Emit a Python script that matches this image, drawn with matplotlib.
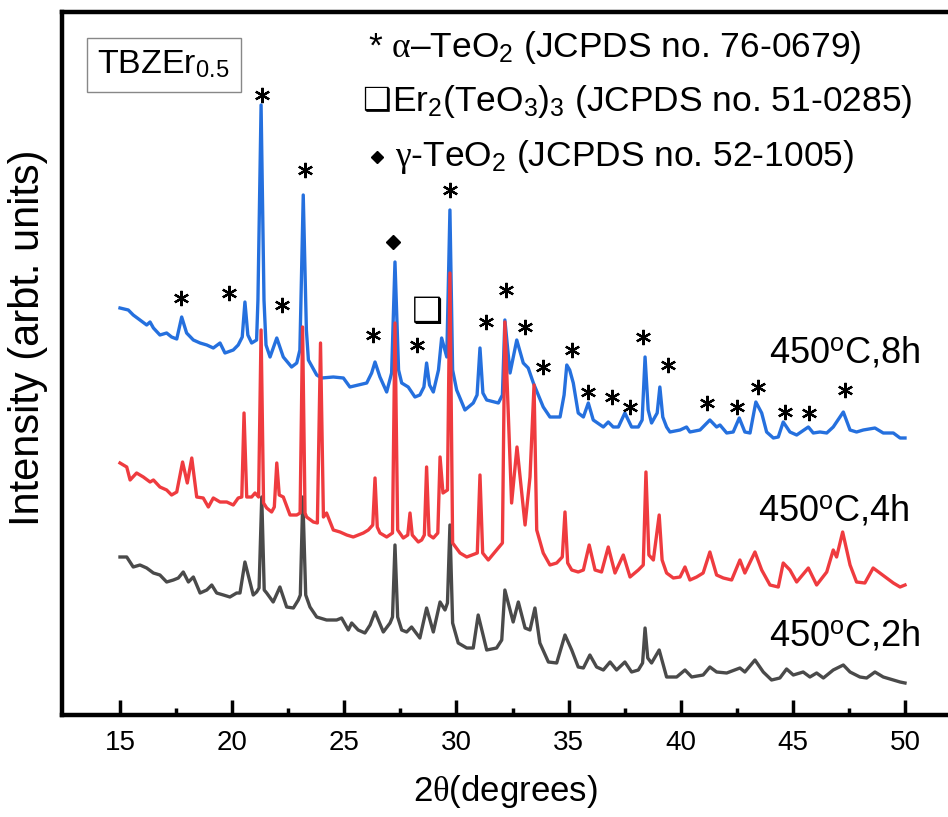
import matplotlib
matplotlib.use("Agg")
import matplotlib.pyplot as plt
from matplotlib.ticker import FixedLocator

plt.rcParams['font.family'] = ['Liberation Sans', 'DejaVu Sans']
plt.rcParams['mathtext.fontset'] = 'custom'
plt.rcParams['mathtext.rm'] = 'Liberation Sans'
plt.rcParams['mathtext.it'] = 'Liberation Serif'
plt.rcParams['mathtext.bf'] = 'Liberation Sans:bold'

# 450C, 8h (blue): (2theta, intensity)
pts_8h = [(15.00, 407), (15.37, 405), (15.59, 400), (15.89, 395), (16.19, 390), (16.34, 393),
          (16.49, 387), (16.78, 380), (17.08, 382), (17.30, 378), (17.53, 376), (17.75, 398),
          (17.97, 382), (18.27, 375), (18.57, 372), (18.87, 370), (19.16, 367), (19.46, 372),
          (19.68, 362), (20.05, 365), (20.27, 370), (20.45, 378), (20.57, 413), (20.70, 380),
          (20.87, 372), (21.09, 375), (21.15, 415), (21.29, 610), (21.42, 415), (21.51, 370),
          (21.69, 358), (21.99, 377), (22.28, 358), (22.65, 348), (22.88, 352), (23.02, 365),
          (23.17, 520), (23.31, 385), (23.40, 355), (23.77, 340), (23.99, 337), (24.51, 338),
          (24.96, 337), (25.25, 328), (25.62, 330), (26.00, 332), (26.22, 342), (26.37, 353),
          (26.59, 338), (26.89, 323), (27.11, 342), (27.26, 453), (27.42, 345), (27.56, 332),
          (27.85, 328), (28.15, 318), (28.37, 320), (28.55, 328), (28.67, 352), (28.80, 330),
          (28.97, 323), (29.20, 345), (29.34, 377), (29.57, 358), (29.71, 505), (29.83, 345),
          (30.01, 325), (30.38, 305), (30.75, 312), (30.92, 320), (31.05, 367), (31.18, 322),
          (31.35, 315), (31.87, 312), (32.05, 320), (32.16, 395), (32.39, 342), (32.69, 375),
          (32.98, 352), (33.20, 347), (33.43, 332), (33.87, 308), (34.17, 298), (34.62, 298),
          (34.80, 320), (34.92, 350), (35.05, 345), (35.21, 332), (35.43, 302), (35.66, 298),
          (35.88, 312), (36.10, 295), (36.55, 288), (36.77, 293), (36.99, 288), (37.22, 288),
          (37.51, 302), (37.81, 288), (38.11, 288), (38.28, 295), (38.41, 358), (38.55, 305),
          (38.70, 292), (38.95, 302), (39.07, 328), (39.20, 298), (39.37, 288), (39.52, 283),
          (39.97, 285), (40.26, 288), (40.41, 283), (40.86, 285), (41.30, 295), (41.60, 288),
          (41.75, 290), (42.05, 282), (42.34, 283), (42.61, 297), (42.86, 283), (43.09, 282),
          (43.35, 313), (43.61, 302), (43.83, 283), (44.13, 277), (44.35, 278), (44.57, 293),
          (44.87, 283), (45.17, 280), (45.69, 288), (45.91, 282), (46.21, 283), (46.51, 282),
          (46.80, 288), (47.25, 303), (47.55, 285), (47.84, 283), (48.14, 285), (48.66, 287),
          (49.03, 282), (49.48, 282), (49.78, 277), (50.00, 277)]

# 450C, 4h (red)
pts_4h = [(15.00, 252), (15.30, 248), (15.45, 235), (15.74, 242), (16.04, 238), (16.34, 233),
          (16.49, 235), (16.78, 228), (17.08, 225), (17.30, 220), (17.53, 223), (17.79, 253),
          (18.00, 232), (18.20, 257), (18.42, 218), (18.71, 217), (18.94, 208), (19.16, 217),
          (19.46, 213), (19.76, 213), (20.05, 210), (20.27, 217), (20.43, 218), (20.53, 302),
          (20.65, 218), (20.87, 218), (21.02, 222), (21.18, 218), (21.29, 385), (21.40, 212),
          (21.54, 207), (21.76, 203), (21.88, 208), (21.99, 252), (22.10, 220), (22.28, 218),
          (22.58, 200), (22.88, 200), (23.03, 202), (23.14, 388), (23.25, 202), (23.32, 198),
          (23.62, 193), (23.80, 192), (23.94, 372), (24.07, 198), (24.21, 202), (24.51, 185),
          (24.81, 183), (25.11, 180), (25.40, 178), (25.85, 182), (26.07, 185), (26.27, 190),
          (26.37, 237), (26.47, 188), (26.59, 182), (26.89, 178), (27.15, 182), (27.26, 392),
          (27.38, 185), (27.63, 177), (27.83, 180), (27.93, 202), (28.03, 180), (28.30, 173),
          (28.45, 175), (28.57, 180), (28.67, 248), (28.78, 180), (28.97, 177), (29.17, 182),
          (29.27, 258), (29.40, 222), (29.60, 225), (29.71, 442), (29.83, 172), (30.16, 162),
          (30.46, 158), (30.93, 162), (31.05, 240), (31.17, 162), (31.42, 155), (31.79, 165),
          (32.05, 172), (32.16, 393), (32.46, 212), (32.70, 268), (33.06, 190), (33.28, 238),
          (33.46, 330), (33.58, 185), (33.87, 162), (34.17, 150), (34.47, 152), (34.72, 158),
          (34.84, 203), (34.96, 152), (35.14, 145), (35.43, 143), (35.66, 145), (35.92, 170),
          (36.18, 145), (36.47, 143), (36.77, 168), (37.07, 142), (37.44, 160), (37.74, 138),
          (38.11, 145), (38.33, 150), (38.45, 243), (38.58, 160), (38.78, 155), (39.04, 200),
          (39.17, 155), (39.37, 142), (39.67, 137), (39.97, 138), (40.19, 148), (40.41, 135),
          (40.71, 138), (41.00, 142), (41.30, 163), (41.60, 140), (41.90, 137), (42.27, 135),
          (42.64, 155), (42.86, 142), (43.31, 163), (43.61, 145), (43.98, 130), (44.35, 128),
          (44.57, 152), (44.87, 145), (45.17, 133), (45.69, 147), (46.06, 130), (46.51, 143),
          (46.80, 165), (46.95, 158), (47.22, 183), (47.55, 150), (47.84, 133), (48.21, 132),
          (48.58, 147), (48.88, 142), (49.18, 137), (49.48, 132), (49.78, 128), (50.00, 130)]

# 450C, 2h (gray)
pts_2h = [(15.00, 158), (15.30, 158), (15.59, 148), (15.89, 150), (16.19, 147), (16.49, 142),
          (16.78, 140), (17.08, 133), (17.38, 135), (17.60, 137), (17.82, 143), (18.05, 133),
          (18.27, 138), (18.57, 122), (18.87, 125), (19.09, 130), (19.31, 122), (19.61, 120),
          (19.90, 118), (20.20, 122), (20.35, 122), (20.57, 153), (20.94, 120), (21.09, 123),
          (21.20, 127), (21.32, 218), (21.43, 125), (21.54, 122), (21.83, 113), (22.13, 128),
          (22.43, 108), (22.73, 107), (22.95, 115), (23.04, 120), (23.15, 218), (23.28, 120),
          (23.47, 108), (23.77, 98), (24.21, 95), (24.66, 95), (24.88, 97), (25.18, 85),
          (25.33, 92), (25.62, 85), (25.92, 82), (26.15, 90), (26.37, 103), (26.74, 83),
          (27.04, 92), (27.15, 98), (27.26, 170), (27.38, 98), (27.56, 85), (27.78, 83),
          (28.00, 88), (28.37, 77), (28.67, 107), (28.97, 83), (29.27, 113), (29.49, 105),
          (29.60, 112), (29.71, 190), (29.83, 92), (30.08, 72), (30.46, 67), (30.75, 67),
          (30.97, 100), (31.35, 65), (31.79, 67), (32.02, 75), (32.16, 125), (32.53, 93),
          (32.76, 113), (33.06, 87), (33.28, 85), (33.50, 107), (33.72, 72), (34.10, 53),
          (34.47, 52), (34.84, 80), (35.14, 65), (35.43, 48), (35.66, 47), (35.95, 60),
          (36.25, 48), (36.55, 45), (36.85, 53), (37.14, 45), (37.51, 53), (37.81, 43),
          (38.11, 45), (38.30, 52), (38.41, 87), (38.53, 57), (38.70, 52), (39.04, 65),
          (39.37, 38), (39.82, 38), (40.19, 45), (40.49, 38), (41.00, 40), (41.30, 48),
          (41.60, 43), (42.05, 42), (42.64, 47), (42.86, 43), (43.31, 55), (43.68, 43),
          (44.05, 35), (44.42, 37), (44.72, 46), (45.02, 40), (45.46, 43), (45.76, 38),
          (46.06, 42), (46.36, 37), (46.80, 45), (47.25, 50), (47.55, 43), (47.99, 38),
          (48.29, 37), (48.66, 43), (49.03, 38), (49.48, 35), (49.78, 33), (50.00, 32)]

# phase markers
star_x = [17.72, 19.86, 21.33, 22.22, 23.25, 26.28, 28.24, 29.71, 31.32, 32.21, 33.06, 33.86,
          35.15, 35.86, 36.93, 37.74, 38.32, 39.43, 41.17, 42.51, 43.44, 44.65, 45.72, 47.32]
star_y = [417, 422, 620, 410, 545, 380, 370, 525, 393, 425, 388, 348,
          365, 323, 318, 308, 378, 350, 312, 308, 328, 303, 302, 325]
square_xy = (28.69, 403)
diamond_xy = (27.17, 473)

legend_lines = [r"* $\alpha$–TeO$_2$ (JCPDS no. 76-0679)",
                "Er$_2$(TeO$_3$)$_3$ (JCPDS no. 51-0285)",
                r"$\gamma$-TeO$_2$ (JCPDS no. 52-1005)"]
curve_labels = ["450$^{\\mathrm{o}}$C,8h", "450$^{\\mathrm{o}}$C,4h", "450$^{\\mathrm{o}}$C,2h"]

x_8h, y_8h = zip(*pts_8h)
x_4h, y_4h = zip(*pts_4h)
x_2h, y_2h = zip(*pts_2h)

fig = plt.figure(figsize=(9.48, 8.17), dpi=100)
ax = fig.add_axes([62 / 948, 102 / 817, 1 - 62 / 948, 703 / 817])

ax.plot(x_2h, y_2h, color='#4a4a4a', lw=2.4)
ax.plot(x_8h, y_8h, color='#2570de', lw=2.4)
ax.plot(x_4h, y_4h, color='#ef3b3f', lw=2.4)

ax.plot(star_x, star_y, ls='none', marker=(6, 2, 0), ms=11, mew=1.6, color='black')
ax.text(square_xy[0], square_xy[1], "❑", fontsize=25, ha='center', va='center',
        family='DejaVu Sans')
ax.plot([diamond_xy[0]], [diamond_xy[1]], ls='none', marker='D', ms=7, color='black')

ax.set_xlim(12.414, 51.917)
ax.set_ylim(0, 703)
ax.set_xticks(range(15, 51, 5))
ax.xaxis.set_minor_locator(FixedLocator([17.5, 22.5, 27.5, 32.5, 37.5, 42.5, 47.5]))
ax.set_yticks([])
ax.tick_params(axis='x', which='major', direction='in', length=11, width=2.5,
               labelsize=20, pad=11)
ax.tick_params(axis='x', which='minor', direction='in', length=5, width=2.5)
for s in ['top', 'bottom', 'left']:
    ax.spines[s].set_linewidth(3.2)
ax.spines['right'].set_visible(False)

ax.set_xlabel(r"2$\theta$(degrees)", fontsize=25, labelpad=12)
fig.text(28 / 948, 1 - 338 / 817, "Intensity (arbt. units)", rotation=90,
         fontsize=30, ha='center', va='center')

# sample label box
ax.text(0.04, 0.925, "TBZEr$_{0.5}$", transform=ax.transAxes, fontsize=24.5,
        va='center', ha='left',
        bbox=dict(boxstyle='square,pad=0.32', fc='white', ec='#888888', lw=1))

# phase legend
leg_y = [0.949, 0.872, 0.794]
leg_x = [0.345, 0.3725, 0.376]
for t, xx, yy in zip(legend_lines, leg_x, leg_y):
    ax.text(xx, yy, t, transform=ax.transAxes, fontsize=25.5, va='center', ha='left')
ax.text(0.3555, leg_y[1], "❑", transform=ax.transAxes, fontsize=23, va='center',
        ha='center', family='DejaVu Sans')
ax.plot([0.3555], [leg_y[2]], transform=ax.transAxes, ls='none', marker='D', ms=6.5,
        color='black')

# curve labels
ax.text(0.798, 0.515, curve_labels[0], transform=ax.transAxes, fontsize=26, va='center')
ax.text(0.785, 0.29, curve_labels[1], transform=ax.transAxes, fontsize=26, va='center')
ax.text(0.798, 0.112, curve_labels[2], transform=ax.transAxes, fontsize=26, va='center')

fig.savefig("out.png", dpi=100)
